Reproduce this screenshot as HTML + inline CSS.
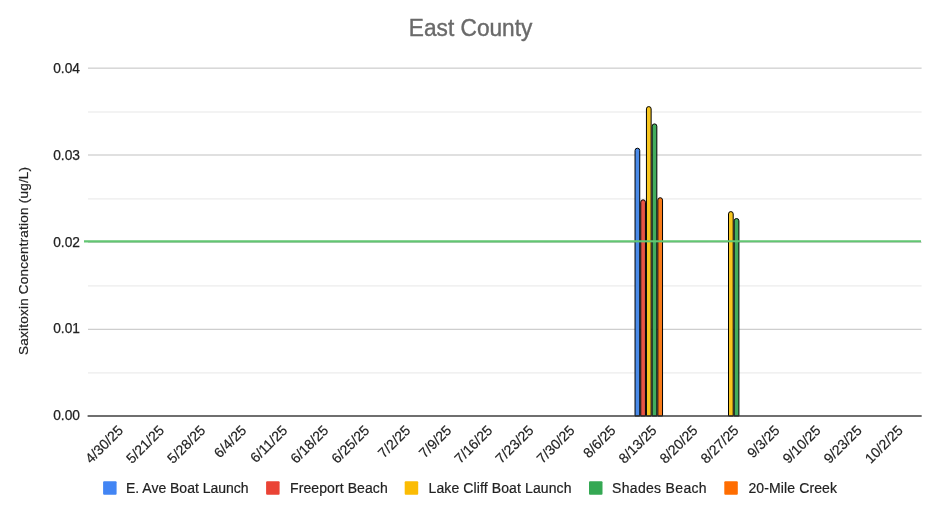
<!DOCTYPE html>
<html><head><meta charset="utf-8"><style>
html,body{margin:0;padding:0;background:#fff;width:947px;height:522px;overflow:hidden}
svg{display:block;will-change:transform}
text{font-family:"Liberation Sans",sans-serif}
</style></head><body>
<svg width="947" height="522" viewBox="0 0 947 522">
<rect width="947" height="522" fill="#fff"/>
<text x="470.6" y="35.9" text-anchor="middle" font-size="23" fill="#6a6a6a" stroke="#6a6a6a" stroke-width="0.4" textLength="123.5" lengthAdjust="spacingAndGlyphs">East County</text>
<rect x="88" y="111.40" width="833.6" height="1.2" fill="#ebebeb"/>
<rect x="88" y="198.30" width="833.6" height="1.2" fill="#ebebeb"/>
<rect x="88" y="285.30" width="833.6" height="1.2" fill="#ebebeb"/>
<rect x="88" y="372.30" width="833.6" height="1.2" fill="#ebebeb"/>
<rect x="88" y="67.55" width="833.6" height="1.2" fill="#cccccc"/>
<rect x="88" y="154.40" width="833.6" height="1.2" fill="#cccccc"/>
<rect x="88" y="241.70" width="833.6" height="1.2" fill="#cccccc"/>
<rect x="88" y="328.75" width="833.6" height="1.2" fill="#cccccc"/>
<text x="80" y="73.3" text-anchor="end" font-size="14.5" fill="#222" stroke="#222" stroke-width="0.25" textLength="26.8" lengthAdjust="spacingAndGlyphs">0.04</text>
<text x="80" y="159.5" text-anchor="end" font-size="14.5" fill="#222" stroke="#222" stroke-width="0.25" textLength="26.8" lengthAdjust="spacingAndGlyphs">0.03</text>
<text x="80" y="246.5" text-anchor="end" font-size="14.5" fill="#222" stroke="#222" stroke-width="0.25" textLength="26.8" lengthAdjust="spacingAndGlyphs">0.02</text>
<text x="80" y="333.2" text-anchor="end" font-size="14.5" fill="#222" stroke="#222" stroke-width="0.25" textLength="26.8" lengthAdjust="spacingAndGlyphs">0.01</text>
<text x="80" y="419.5" text-anchor="end" font-size="14.5" fill="#222" stroke="#222" stroke-width="0.25" textLength="26.8" lengthAdjust="spacingAndGlyphs">0.00</text>
<text transform="translate(28.4,260.9) rotate(-90)" text-anchor="middle" font-size="13.5" fill="#222" stroke="#222" stroke-width="0.2" textLength="188" lengthAdjust="spacing">Saxitoxin Concentration (ug/L)</text>
<path d="M635.04,416 L635.04,150.55 A2.35,2.35 0 0 1 639.74,150.55 L639.74,416 Z"  fill="#4a8ae8" stroke="#000" stroke-width="1"/>
<path d="M640.74,416 L640.74,202.15 A2.35,2.35 0 0 1 645.44,202.15 L645.44,416 Z"  fill="#e85444" stroke="#000" stroke-width="1"/>
<path d="M646.44,416 L646.44,108.95 A2.35,2.35 0 0 1 651.14,108.95 L651.14,416 Z"  fill="#f8c61e" stroke="#000" stroke-width="1"/>
<path d="M652.14,416 L652.14,126.25 A2.35,2.35 0 0 1 656.84,126.25 L656.84,416 Z"  fill="#42ad5d" stroke="#000" stroke-width="1"/>
<path d="M657.84,416 L657.84,200.05 A2.35,2.35 0 0 1 662.54,200.05 L662.54,416 Z"  fill="#f87a18" stroke="#000" stroke-width="1"/>
<path d="M728.50,416 L728.50,213.95 A2.35,2.35 0 0 1 733.20,213.95 L733.20,416 Z"  fill="#f8c61e" stroke="#000" stroke-width="1"/>
<path d="M734.20,416 L734.20,220.85 A2.35,2.35 0 0 1 738.90,220.85 L738.90,416 Z"  fill="#42ad5d" stroke="#000" stroke-width="1"/>
<rect x="87.6" y="415.3" width="834.1" height="1.4" fill="#333"/>
<line x1="84" y1="241.35" x2="921" y2="241.25" stroke="#62c672" stroke-width="2.2"/>
<text transform="translate(124.10,431.2) rotate(-45)" text-anchor="end" font-size="14" fill="#222" stroke="#222" stroke-width="0.2">4/30/25</text>
<text transform="translate(165.13,431.2) rotate(-45)" text-anchor="end" font-size="14" fill="#222" stroke="#222" stroke-width="0.2">5/21/25</text>
<text transform="translate(206.16,431.2) rotate(-45)" text-anchor="end" font-size="14" fill="#222" stroke="#222" stroke-width="0.2">5/28/25</text>
<text transform="translate(247.19,431.2) rotate(-45)" text-anchor="end" font-size="14" fill="#222" stroke="#222" stroke-width="0.2">6/4/25</text>
<text transform="translate(288.22,431.2) rotate(-45)" text-anchor="end" font-size="14" fill="#222" stroke="#222" stroke-width="0.2">6/11/25</text>
<text transform="translate(329.25,431.2) rotate(-45)" text-anchor="end" font-size="14" fill="#222" stroke="#222" stroke-width="0.2">6/18/25</text>
<text transform="translate(370.28,431.2) rotate(-45)" text-anchor="end" font-size="14" fill="#222" stroke="#222" stroke-width="0.2">6/25/25</text>
<text transform="translate(411.31,431.2) rotate(-45)" text-anchor="end" font-size="14" fill="#222" stroke="#222" stroke-width="0.2">7/2/25</text>
<text transform="translate(452.34,431.2) rotate(-45)" text-anchor="end" font-size="14" fill="#222" stroke="#222" stroke-width="0.2">7/9/25</text>
<text transform="translate(493.37,431.2) rotate(-45)" text-anchor="end" font-size="14" fill="#222" stroke="#222" stroke-width="0.2">7/16/25</text>
<text transform="translate(534.40,431.2) rotate(-45)" text-anchor="end" font-size="14" fill="#222" stroke="#222" stroke-width="0.2">7/23/25</text>
<text transform="translate(575.43,431.2) rotate(-45)" text-anchor="end" font-size="14" fill="#222" stroke="#222" stroke-width="0.2">7/30/25</text>
<text transform="translate(616.46,431.2) rotate(-45)" text-anchor="end" font-size="14" fill="#222" stroke="#222" stroke-width="0.2">8/6/25</text>
<text transform="translate(657.49,431.2) rotate(-45)" text-anchor="end" font-size="14" fill="#222" stroke="#222" stroke-width="0.2">8/13/25</text>
<text transform="translate(698.52,431.2) rotate(-45)" text-anchor="end" font-size="14" fill="#222" stroke="#222" stroke-width="0.2">8/20/25</text>
<text transform="translate(739.55,431.2) rotate(-45)" text-anchor="end" font-size="14" fill="#222" stroke="#222" stroke-width="0.2">8/27/25</text>
<text transform="translate(780.58,431.2) rotate(-45)" text-anchor="end" font-size="14" fill="#222" stroke="#222" stroke-width="0.2">9/3/25</text>
<text transform="translate(821.61,431.2) rotate(-45)" text-anchor="end" font-size="14" fill="#222" stroke="#222" stroke-width="0.2">9/10/25</text>
<text transform="translate(862.64,431.2) rotate(-45)" text-anchor="end" font-size="14" fill="#222" stroke="#222" stroke-width="0.2">9/23/25</text>
<text transform="translate(903.67,431.2) rotate(-45)" text-anchor="end" font-size="14" fill="#222" stroke="#222" stroke-width="0.2">10/2/25</text>
<rect x="103.1" y="481.3" width="13.5" height="13.5" rx="1" fill="#4285F4"/>
<text x="126" y="492.7"  font-size="14" fill="#222" stroke="#222" stroke-width="0.2" textLength="122.6" lengthAdjust="spacing">E. Ave Boat Launch</text>
<rect x="266.1" y="481.3" width="13.5" height="13.5" rx="1" fill="#EA4335"/>
<text x="290" y="492.7"  font-size="14" fill="#222" stroke="#222" stroke-width="0.2" textLength="97.7" lengthAdjust="spacing">Freeport Beach</text>
<rect x="404.7" y="481.3" width="13.5" height="13.5" rx="1" fill="#FBBC04"/>
<text x="428.5" y="492.7"  font-size="14" fill="#222" stroke="#222" stroke-width="0.2" textLength="143" lengthAdjust="spacing">Lake Cliff Boat Launch</text>
<rect x="589" y="481.3" width="13.5" height="13.5" rx="1" fill="#34A853"/>
<text x="612" y="492.7"  font-size="14" fill="#222" stroke="#222" stroke-width="0.2" textLength="94.6" lengthAdjust="spacing">Shades Beach</text>
<rect x="724.3" y="481.3" width="13.5" height="13.5" rx="1" fill="#FF6D01"/>
<text x="748.4" y="492.7"  font-size="14" fill="#222" stroke="#222" stroke-width="0.2" textLength="88.6" lengthAdjust="spacing">20-Mile Creek</text>
</svg>
</body></html>
